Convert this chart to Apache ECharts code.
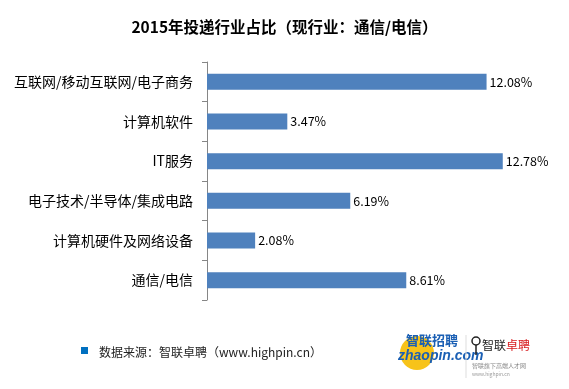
<!DOCTYPE html>
<html><head><meta charset="utf-8">
<script src="https://cdn.jsdelivr.net/npm/echarts@6/dist/echarts.min.js"></script>
<style>html,body{margin:0;padding:0;background:#fff}#c{width:569px;height:389px}</style>
</head><body><div id="c"></div>
<script>
const titleText = '2015年投递行业占比（现行业：通信/电信）';
const categories = ['互联网/移动互联网/电子商务','计算机软件','IT服务','电子技术/半导体/集成电路','计算机硬件及网络设备','通信/电信'];
const values = [12.08, 3.47, 12.78, 6.19, 2.08, 8.61];
const sourceText = '数据来源：智联卓聘（www.highpin.cn）';

const font = '"Microsoft YaHei","Noto Sans CJK SC",sans-serif';
const chart = echarts.init(document.getElementById('c'), null, {renderer:'canvas'});
chart.setOption({
  animation:false,
  backgroundColor:'#fff',
  title:{text:titleText,left:'center',top:14,textStyle:{fontSize:15.5,fontWeight:'bold',color:'#000',fontFamily:font}},
  grid:{left:207,top:62,width:324,height:238,containLabel:false},
  xAxis:{type:'value',min:0,max:14,show:false},
  yAxis:{type:'category',inverse:true,data:categories,
    axisLine:{lineStyle:{color:'#868686',width:1}},
    axisTick:{show:true,length:5,lineStyle:{color:'#868686'}},
    axisLabel:{margin:14,fontSize:14,color:'#000',fontFamily:font}},
  series:[{type:'bar',data:values,barWidth:16,itemStyle:{color:'#4f81bd'},
    label:{show:true,position:'right',distance:3,fontSize:12.5,color:'#000',fontFamily:font,formatter:p=>p.value.toFixed(2)+'%'}}],
  graphic:[
    {type:'rect',shape:{x:81,y:347,width:7,height:7},style:{fill:'#0070c0'}},
    {type:'text',x:99,y:352,style:{text:sourceText,font:'12px '+font,fill:'#222',textVerticalAlign:'middle'}},
    {type:'circle',shape:{cx:417,cy:353,r:17},style:{fill:'#f7c31a'}},
    {type:'text',x:432,y:340,style:{text:'智联招聘',font:'bold 13px '+font,fill:'#1a5fb4',textAlign:'center',textVerticalAlign:'middle'}},
    {type:'text',x:398,y:356,style:{text:'zhaopin.com',font:'italic bold 14px Arial,sans-serif',fill:'#1a5fb4',textVerticalAlign:'middle'}},
    {type:'line',shape:{x1:466,y1:335,x2:466,y2:378},style:{stroke:'#ddd',lineWidth:1}},
    {type:'circle',shape:{cx:476,cy:341,r:4},style:{fill:'none',stroke:'#222',lineWidth:1.5}},
    {type:'line',shape:{x1:476,y1:345,x2:476,y2:355},style:{stroke:'#222',lineWidth:1.5}},
    {type:'text',x:482,y:345,style:{text:'智联',font:'12px '+font,fill:'#222',textVerticalAlign:'middle'}},
    {type:'text',x:506,y:345,style:{text:'卓聘',font:'12px '+font,fill:'#d7191c',textVerticalAlign:'middle'}},
    {type:'text',x:472,y:366,style:{text:'智联旗下高端人才网',font:'6px '+font,fill:'#888',textVerticalAlign:'middle'}},
    {type:'text',x:472,y:374,style:{text:'www.highpin.cn',font:'5px '+font,fill:'#999',textVerticalAlign:'middle'}}
  ]
});
</script></body></html>
